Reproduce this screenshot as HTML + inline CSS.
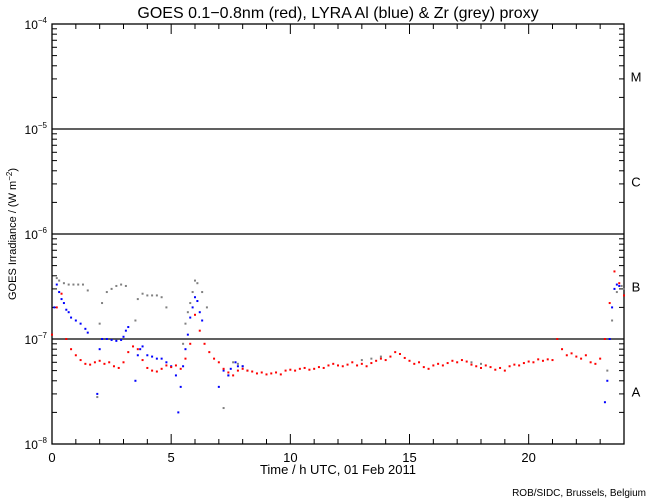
<!DOCTYPE html>
<html><head><meta charset="utf-8"><style>
html,body{margin:0;padding:0;background:#fff;}
svg{display:block;font-family:"Liberation Sans",sans-serif;}
</style></head><body>
<svg id="chart" width="650" height="500">
<text x="338" y="18" font-size="16" text-anchor="middle">GOES 0.1−0.8nm (red), LYRA Al (blue) &amp; Zr (grey) proxy</text>
<text transform="translate(16,234) rotate(-90)" font-size="11" text-anchor="middle">GOES Irradiance / (W m<tspan dy="-4" font-size="8">−2</tspan><tspan dy="4">)</tspan></text>
<text x="338" y="474" font-size="13" text-anchor="middle">Time / h UTC, 01 Feb 2011</text>
<text x="646" y="496" font-size="10" text-anchor="end">ROB/SIDC, Brussels, Belgium</text>
<g id="axes"></g>
<g id="marks"></g>
</svg>
<script>
const xTicks=[0,5,10,15,20];
const yDecades=[-8,-7,-6,-5,-4];
const classLabels=['A','B','C','M'];
const redTimes=[0,0.2,0.4,0.6,0.8,1,1.2,1.4,1.6,1.8,2,2.2,2.4,2.6,2.8,3,3.2,3.4,3.6,3.8,4,4.2,4.4,4.6,4.8,5,5.2,5.4,5.6,5.8,6,6.2,6.4,6.6,6.8,7,7.2,7.4,7.6,7.8,8,8.2,8.4,8.6,8.8,9,9.2,9.4,9.6,9.8,10,10.2,10.4,10.6,10.8,11,11.2,11.4,11.6,11.8,12,12.2,12.4,12.6,12.8,13,13.2,13.4,13.6,13.8,14,14.2,14.4,14.6,14.8,15,15.2,15.4,15.6,15.8,16,16.2,16.4,16.6,16.8,17,17.2,17.4,17.6,17.8,18,18.2,18.4,18.6,18.8,19,19.2,19.4,19.6,19.8,20,20.2,20.4,20.6,20.8,21,21.2,21.4,21.6,21.8,22,22.2,22.4,22.6,22.8,23,23.2,23.4,23.6,23.8,24];
const redValues=[11,20,27,10,8,7,6.3,5.8,5.7,6,6.2,5.8,6,5.5,5.3,6,7.5,8.5,8,6.3,5.3,5,4.9,5.2,5.6,5.4,5.6,5.2,6.5,9,17,12,9,7.5,6.5,6,5.2,4.8,4.5,5,5.2,5,4.9,4.7,4.8,4.6,4.7,4.8,4.6,5,5.1,5,5.2,5.3,5.1,5.2,5.4,5.3,5.6,5.8,5.6,5.5,5.7,6,5.6,5.8,5.5,5.9,6.2,6.5,6.3,6.8,7.5,7.2,6.6,6.2,5.8,6,5.4,5.2,5.6,5.8,5.6,5.9,6.2,6,6.3,6.1,5.7,5.5,5.3,5.6,5.4,5.1,5.3,5,5.5,5.7,5.6,5.9,6.1,6,6.4,6.2,6.4,6.3,10,8,7,7.3,6.8,6.5,7,6,5.8,6.5,10,22,44,34,26];
const blueTimes=[0.1,0.2,0.3,0.4,0.5,0.6,0.7,0.8,1,1.2,1.4,1.5,1.9,2,2.1,2.3,2.5,2.7,2.9,3,3.1,3.2,3.5,3.6,3.7,3.8,4,4.2,4.4,4.6,4.8,5,5.2,5.3,5.4,5.5,5.6,5.7,5.8,5.9,6,6.1,6.2,6.3,7,7.2,7.4,7.5,7.7,7.8,8,23.2,23.3,23.4,23.5,23.6,23.7,23.8];
const blueValues=[20,33,28,24,22,19,18,16,15,14,12.5,11.5,3,8,10,10,9.8,9.6,9.8,10.5,12,13,4,7,8,8.5,7,6.8,6.5,6.5,6,5.5,4.5,2,3.5,5.5,8,11,16,20,25,23,18,15,3.5,5,4.5,5.2,6,5.5,5.5,2.5,4,10,20,30,33,32];
const greyTimes=[0.2,0.3,0.5,0.7,0.9,1.1,1.3,1.5,1.9,2,2.1,2.3,2.5,2.7,2.9,3.1,3.5,3.6,3.8,4,4.2,4.4,4.6,4.8,5.5,5.6,5.7,5.8,5.9,6,6.1,6.3,6.5,7.2,7.4,7.6,7.8,8,8.2,13,13.4,13.8,17.6,18,23.3,23.5,23.7,23.9,24];
const greyValues=[38,36,34,33,33,33,33,29,2.8,14,22,28,30,32,33,32,15,24,27,26,26,26,25,20,9,14,18,22,28,36,34,28,20,2.2,4.5,6,5.8,5.5,5,6.3,6.5,6.8,6,5.8,5,15,28,32,30];

const NS='http://www.w3.org/2000/svg';
const L=52,R=624,T=24,B=444,X0=0,X1=24;
function xs(t){return L+(t-X0)/(X1-X0)*(R-L);}
function ys(v){return B-(Math.log10(v*1e-8)+8)/4*(B-T);}
function mk(tag,attrs,parent){const e=document.createElementNS(NS,tag);for(const k in attrs)e.setAttribute(k,attrs[k]);parent.appendChild(e);return e;}
const ax=document.getElementById('axes');
const frame=mk('rect',{x:L,y:T,width:R-L,height:B-T,fill:'none',stroke:'#000','stroke-width':1.3},ax);


for(let h=0;h<=24;h++){
  const major=xTicks.includes(h);const len=major?10:5;
  mk('line',{x1:xs(h),x2:xs(h),y1:B,y2:B-len,stroke:'#000'},ax);
  mk('line',{x1:xs(h),x2:xs(h),y1:T,y2:T+len,stroke:'#000'},ax);
}
xTicks.forEach(t=>{
  const tx=mk('text',{x:xs(t),y:B+18,'font-size':13,'text-anchor':'middle'},ax);
  tx.textContent=t;
  
  
});
yDecades.forEach((d,i)=>{
  const y=ys(Math.pow(10,d+8));
  mk('line',{x1:L,x2:L+10,y1:y,y2:y,stroke:'#000'},ax);
  mk('line',{x1:R,x2:R-10,y1:y,y2:y,stroke:'#000'},ax);
  if(d>-8&&d<-4){const gl=mk('line',{x1:L,x2:R,y1:y,y2:y,stroke:'#000','stroke-width':1.3},ax);
    
    }
  const tx=mk('text',{x:47,y:y+5,'font-size':12,'text-anchor':'end'},ax);
  tx.textContent='10';
  const sp=mk('tspan',{dy:-6,'font-size':8},tx);sp.textContent=String(d).replace('-','−');
  
  
  if(i<4){for(let m=2;m<=9;m++){const ym=ys(Math.pow(10,d+8)*m);
    mk('line',{x1:L,x2:L+5,y1:ym,y2:ym,stroke:'#000'},ax);
    mk('line',{x1:R,x2:R-5,y1:ym,y2:ym,stroke:'#000'},ax);}
    const cl=mk('text',{x:636,y:(y+ys(Math.pow(10,d+9)))/2+5,'font-size':13,'text-anchor':'middle'},ax);
    cl.textContent=classLabels[i];
    
    }
});
const mg=document.getElementById('marks');
function series(times,vals,color,name){
  const g=mk('g',{},mg);
  
  
  times.forEach((t,i)=>{
    const d=mk('rect',{x:xs(t)-1,y:ys(vals[i])-1,width:2,height:2,fill:color},g);
    
    
  });
}
series(greyTimes,greyValues,'#808080','zr-grey-series');
series(blueTimes,blueValues,'#0000ff','al-blue-series');
series(redTimes,redValues,'#ff0000','goes-red-series');
</script>
</body></html>
